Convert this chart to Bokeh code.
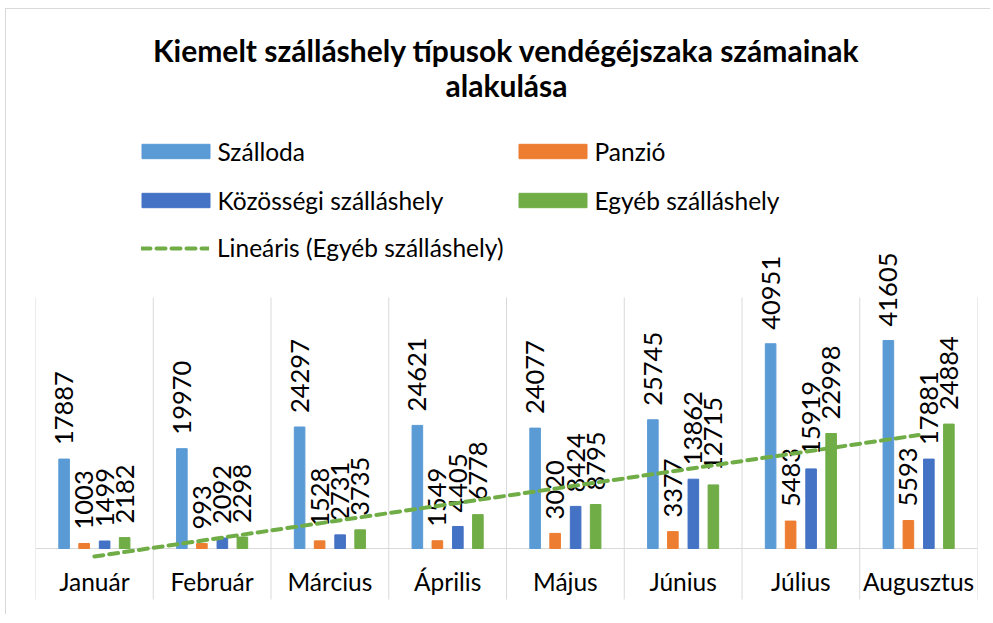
import numpy as np
from bokeh.plotting import figure
from bokeh.models import (ColumnDataSource, Range1d, FixedTicker, Legend, LegendItem, Label)
from bokeh.core.properties import value
from bokeh.embed import file_html
from bokeh.resources import INLINE

# ---- data ----
months = ["Január", "Február", "Március", "Április", "Május", "Június", "Július", "Augusztus"]
szalloda = [17887, 19970, 24297, 24621, 24077, 25745, 40951, 41605]
panzio = [1003, 993, 1528, 1549, 3020, 3377, 5483, 5593]
kozossegi = [1499, 2092, 2731, 4405, 8424, 13862, 15919, 17881]
egyeb = [2182, 2298, 3735, 6778, 8795, 12715, 22998, 24884]
series_names = ["Szálloda", "Panzió", "Közösségi szálláshely", "Egyéb szálláshely"]
trend_name = "Lineáris (Egyéb szálláshely)"
title_lines = ["Kiemelt szálláshely típusok vendégéjszaka számainak", "alakulása"]

colors = ["#5B9BD5", "#ED7D31", "#4472C4", "#70AD47"]
FONT = "Lato"
AXIS_TOP = 50200      # top of the value axis (plot area)
AXIS_BOTTOM = -10200  # bottom of the category label band

W, H = 985, 606
p = figure(width=W, height=H, output_backend="svg", toolbar_location=None,
           x_range=Range1d(0.5, 8.5), y_range=Range1d(-13400, 107800),
           min_border_left=29, min_border_right=14, min_border_top=0, min_border_bottom=0)
p.styles = {"margin-left": "5px", "margin-top": "8px",
            "border-left": "1px solid #D9D9D9", "border-top": "1px solid #D9D9D9"}
p.outline_line_color = None
p.xaxis.visible = False
p.yaxis.visible = False
p.xgrid.visible = False
p.ygrid.ticker = FixedTicker(ticks=[0])
p.ygrid.grid_line_color = "#D9D9D9"
p.background_fill_color = "white"
p.border_fill_color = "white"

# category separators
sep_x = [i + 0.5 for i in range(len(months) + 1)]
p.segment(x0=sep_x, x1=sep_x, y0=[AXIS_BOTTOM] * len(sep_x), y1=[AXIS_TOP] * len(sep_x),
          line_color="#D9D9D9", line_width=1)

idx = np.arange(1, len(months) + 1)
offsets = [-0.257, -0.087, 0.087, 0.257]
bar_w = 0.09
all_series = [szalloda, panzio, kozossegi, egyeb]
renderers = []
for vals, off, col in zip(all_series, offsets, colors):
    src = ColumnDataSource(dict(x=idx + off, top=vals, lab=[str(v) for v in vals]))
    r = p.vbar(x="x", top="top", bottom=0, width=bar_w, source=src, fill_color=col, line_color=col)
    renderers.append(r)
    p.text(x="x", y="top", text="lab", source=src, angle=np.pi / 2, text_align="left",
           text_baseline="middle", y_offset=-14, text_font=value(FONT), text_font_size="25.5px",
           text_color="#000000")

# linear trendline of Egyéb szálláshely
k, b = np.polyfit(idx, egyeb, 1)
tr = p.line(idx, k * idx + b, line_color="#70AD47", line_width=4, line_dash="9 6", line_cap="round")

# category labels
csrc = ColumnDataSource(dict(x=idx, y=np.zeros(len(months)), t=months))
p.text(x="x", y="y", text="t", source=csrc, text_align="center", text_baseline="middle",
       y_offset=33, text_font=value(FONT), text_font_size="24.5px", text_color="#000000")

# legends (screen positions relative to frame bottom-left)
bar_pos = [(97.5, 449.5), (474.5, 449.5), (97.5, 400.5), (474.5, 400.5)]
for lab, rr, loc in zip(series_names, renderers, bar_pos):
    lg = Legend(items=[LegendItem(label=lab, renderers=[rr])], location=loc,
                padding=0, margin=0, border_line_color=None, background_fill_alpha=0,
                label_text_font=FONT, label_text_font_size="24.5px", label_text_color="#000000",
                glyph_width=85, glyph_height=18, label_standoff=0)
    p.add_layout(lg)
lg = Legend(items=[LegendItem(label=trend_name, renderers=[tr])], location=(106, 353),
            padding=0, margin=0, border_line_color=None, background_fill_alpha=0,
            label_text_font=FONT, label_text_font_size="24.5px", label_text_color="#000000",
            glyph_width=68, glyph_height=18, label_standoff=8)
p.add_layout(lg)

# title
for t, yy in zip(title_lines, [566, 531]):
    p.add_layout(Label(x=471, y=yy, x_units="screen", y_units="screen", text=t,
                       text_align="center", text_baseline="middle", text_font=FONT,
                       text_font_style="bold", text_font_size="30px", text_color="#000000"))

open("out.html", "w").write(file_html(p, INLINE))
